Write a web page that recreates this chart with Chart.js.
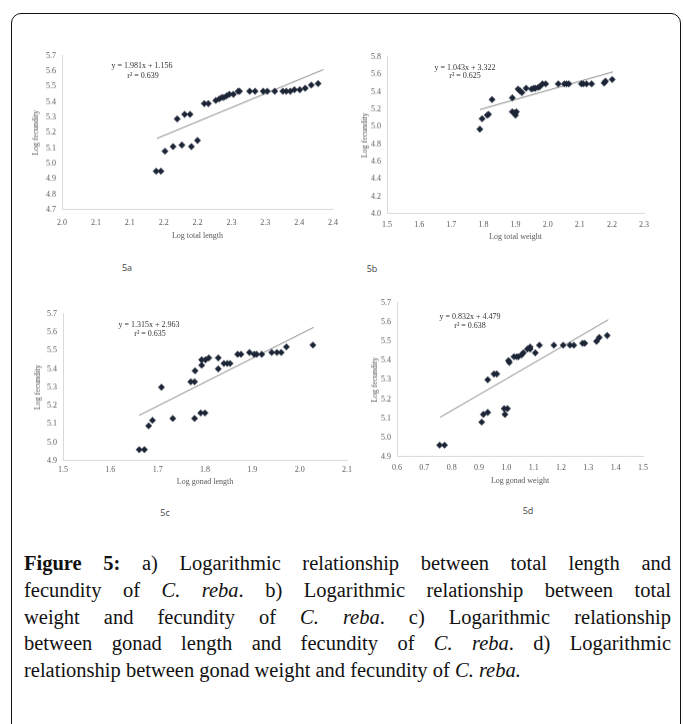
<!DOCTYPE html>
<html>
<head>
<meta charset="utf-8">
<script src="https://cdn.jsdelivr.net/npm/chart.js@4"></script>
<style>
  body { margin: 0; width: 683px; height: 724px; overflow: hidden; background: #fff; position: relative; }
  .frame { position: absolute; left: 11px; top: 13px; width: 670px; height: 800px; border: 1.5px solid #111; border-radius: 10px; box-sizing: border-box; }
  canvas { position: absolute; }
  .eq { position: absolute; transform: translate(-50%, -50%); font: 8px "Liberation Serif", serif; color: #333; white-space: nowrap; }
  .tag { position: absolute; transform: translate(-50%, -50%); font: 9px "Open Sans", sans-serif; color: #444; }
  .caption { position: absolute; left: 24px; width: 647px; top: 550px; font: 20.5px/26.8px "Liberation Serif", serif; color: #111; }
  .caption div { text-align: justify; text-align-last: justify; white-space: nowrap; }
  .caption div:last-child { text-align-last: left; }
</style>
</head>
<body>
<div class="frame"></div>
<canvas id="c5a" width="320" height="200"></canvas>
<canvas id="c5b" width="320" height="200"></canvas>
<canvas id="c5c" width="320" height="200"></canvas>
<canvas id="c5d" width="320" height="200"></canvas>

<div class="eq" style="left:142px;top:65px">y = 1.981x + 1.156</div>
<div class="eq" style="left:143px;top:75px">r² = 0.639</div>
<div class="eq" style="left:465px;top:67px">y = 1.043x + 3.322</div>
<div class="eq" style="left:465px;top:75px">r² = 0.625</div>
<div class="eq" style="left:149px;top:324px">y = 1.315x + 2.963</div>
<div class="eq" style="left:150px;top:333px">r² = 0.635</div>
<div class="eq" style="left:470px;top:316px">y = 0.832x + 4.479</div>
<div class="eq" style="left:470px;top:325px">r² = 0.638</div>

<div class="tag" style="left:127px;top:267px">5a</div>
<div class="tag" style="left:372px;top:268px">5b</div>
<div class="tag" style="left:165px;top:512px">5c</div>
<div class="tag" style="left:528px;top:510px">5d</div>

<div class="caption">
  <div><b>Figure 5:</b> a) Logarithmic relationship between total length and</div>
  <div>fecundity of <i>C. reba</i>. b) Logarithmic relationship between total</div>
  <div>weight and fecundity of <i>C. reba</i>. c) Logarithmic relationship</div>
  <div>between gonad length and fecundity of <i>C. reba</i>. d) Logarithmic</div>
  <div>relationship between gonad weight and fecundity of <i>C. reba.</i></div>
</div>

<script>
// 5a: log total length vs log fecundity
const aX = [2.139, 2.146, 2.152, 2.164, 2.170, 2.177, 2.181, 2.189, 2.191, 2.200, 2.210, 2.216, 2.227, 2.232, 2.236, 2.239, 2.243, 2.247, 2.253, 2.260, 2.262, 2.277, 2.285, 2.297, 2.303, 2.314, 2.326, 2.331, 2.337, 2.343, 2.351, 2.359, 2.368, 2.378];
const aY = [4.95, 4.95, 5.08, 5.11, 5.29, 5.12, 5.32, 5.32, 5.11, 5.15, 5.39, 5.39, 5.41, 5.42, 5.43, 5.43, 5.44, 5.45, 5.45, 5.47, 5.47, 5.47, 5.47, 5.47, 5.47, 5.47, 5.47, 5.47, 5.47, 5.48, 5.48, 5.49, 5.51, 5.52];
const aTrendX = [2.140, 2.386];
const aTrendY = [5.163, 5.611];
const aTicks = ['2.0', '2.1', '2.1', '2.2', '2.2', '2.3', '2.3', '2.4', '2.4'];

// 5b: log total weight vs log fecundity
const bX = [1.789, 1.796, 1.812, 1.816, 1.827, 1.890, 1.890, 1.898, 1.900, 1.903, 1.908, 1.914, 1.920, 1.933, 1.950, 1.957, 1.962, 1.971, 1.976, 1.984, 1.994, 2.033, 2.052, 2.059, 2.066, 2.105, 2.111, 2.121, 2.137, 2.176, 2.180, 2.201];
const bY = [4.97, 5.09, 5.13, 5.14, 5.31, 5.33, 5.17, 5.16, 5.13, 5.17, 5.43, 5.41, 5.39, 5.44, 5.43, 5.44, 5.44, 5.45, 5.46, 5.49, 5.49, 5.49, 5.49, 5.49, 5.49, 5.49, 5.49, 5.49, 5.49, 5.50, 5.52, 5.54];
const bTrendX = [1.789, 2.204];
const bTrendY = [5.195, 5.628];

// 5c: log gonad length vs log fecundity
const cX = [1.661, 1.672, 1.681, 1.689, 1.708, 1.732, 1.770, 1.778, 1.778, 1.779, 1.793, 1.793, 1.801, 1.791, 1.800, 1.808, 1.828, 1.828, 1.840, 1.847, 1.853, 1.869, 1.876, 1.894, 1.904, 1.909, 1.920, 1.941, 1.952, 1.961, 1.972, 2.028];
const cY = [4.96, 4.96, 5.09, 5.12, 5.30, 5.13, 5.33, 5.33, 5.13, 5.39, 5.42, 5.45, 5.45, 5.16, 5.16, 5.46, 5.46, 5.40, 5.43, 5.43, 5.43, 5.48, 5.48, 5.49, 5.48, 5.48, 5.48, 5.49, 5.49, 5.49, 5.52, 5.53];
const cTrendX = [1.661, 2.030];
const cTrendY = [5.147, 5.627];

// 5d: log gonad weight vs log fecundity
const dX = [0.756, 0.774, 0.910, 0.916, 0.932, 0.932, 0.955, 0.965, 0.992, 1.004, 0.995, 1.008, 1.011, 1.028, 1.038, 1.044, 1.056, 1.062, 1.077, 1.087, 1.087, 1.106, 1.121, 1.174, 1.208, 1.233, 1.247, 1.279, 1.287, 1.330, 1.340, 1.369];
const dY = [4.96, 4.96, 5.08, 5.12, 5.13, 5.30, 5.33, 5.33, 5.15, 5.15, 5.12, 5.40, 5.39, 5.42, 5.42, 5.42, 5.43, 5.44, 5.46, 5.47, 5.46, 5.44, 5.48, 5.48, 5.48, 5.48, 5.48, 5.49, 5.49, 5.50, 5.52, 5.53];
const dTrendX = [0.758, 1.373];
const dTrendY = [5.105, 5.612];

const tickFont = { family: 'Liberation Serif', size: 8 };
const grey = '#595959';

function pts(xs, ys) {
  return xs.map((x, i) => ({ x: x, y: ys[i] }));
}

function makePanel(id, p) {
  const chart = new Chart(document.getElementById(id), {
    type: 'scatter',
    data: {
      datasets: [
        {
          data: pts(p.x, p.y),
          pointStyle: 'rectRot',
          pointRadius: 3.2,
          backgroundColor: '#1c2536',
          borderColor: '#1c2536',
          borderWidth: 0.5
        },
        {
          data: pts(p.tx, p.ty),
          showLine: true,
          pointRadius: 0,
          borderColor: '#8a8a8a',
          borderWidth: 1
        }
      ]
    },
    options: {
      responsive: false,
      maintainAspectRatio: false,
      animation: false,
      layout: { padding: { top: 6, right: 10, left: 0, bottom: 0 } },
      plugins: { legend: { display: false }, tooltip: { enabled: false } },
      scales: {
        x: {
          type: 'linear',
          min: p.xMin, max: p.xMax,
          grid: { display: false, drawTicks: false },
          border: { color: '#d9d9d9' },
          ticks: {
            stepSize: p.xStep,
            autoSkip: false,
            maxRotation: 0,
            padding: p.xPad,
            color: grey,
            font: tickFont,
            callback: p.xLabels ? (v, i) => p.xLabels[i] : v => v.toFixed(1)
          },
          title: { display: true, text: p.xTitle, color: grey, font: tickFont, padding: 0 },
          afterFit: s => { s.height = p.xH; }
        },
        y: {
          min: p.yMin, max: p.yMax,
          grid: { display: false, drawTicks: false },
          border: { color: '#d9d9d9' },
          ticks: {
            stepSize: p.yStep,
            padding: 6,
            color: grey,
            font: tickFont,
            callback: v => v.toFixed(1)
          },
          title: { display: true, text: 'Log fecundity', color: grey, font: tickFont, padding: 0 },
          afterFit: s => { s.width = p.yW; }
        }
      }
    }
  });

  // move the canvas so that the plot area sits where the picture has it
  const a = chart.chartArea;
  chart.resize(
    chart.width + (p.box[2] - p.box[0]) - (a.right - a.left),
    chart.height + (p.box[3] - p.box[1]) - (a.bottom - a.top)
  );
  const b = chart.chartArea;
  chart.canvas.style.left = (p.box[0] - b.left) + 'px';
  chart.canvas.style.top = (p.box[1] - b.top) + 'px';
}

makePanel('c5a', {
  x: aX, y: aY, tx: aTrendX, ty: aTrendY,
  xMin: 2.0, xMax: 2.4, xStep: 0.05, xLabels: aTicks,
  yMin: 4.7, yMax: 5.7, yStep: 0.1,
  xTitle: 'Log total length', xPad: 8, xH: 31, yW: 31,
  box: [62, 56, 333, 209]
});
makePanel('c5b', {
  x: bX, y: bY, tx: bTrendX, ty: bTrendY,
  xMin: 1.5, xMax: 2.3, xStep: 0.1,
  yMin: 4.0, yMax: 5.8, yStep: 0.2,
  xTitle: 'Log total weight', xPad: 6, xH: 28, yW: 27,
  box: [387, 57, 644, 213]
});
makePanel('c5c', {
  x: cX, y: cY, tx: cTrendX, ty: cTrendY,
  xMin: 1.5, xMax: 2.1, xStep: 0.1,
  yMin: 4.9, yMax: 5.7, yStep: 0.1,
  xTitle: 'Log gonad length', xPad: 4, xH: 26, yW: 30,
  box: [63, 314, 347, 460]
});
makePanel('c5d', {
  x: dX, y: dY, tx: dTrendX, ty: dTrendY,
  xMin: 0.6, xMax: 1.5, xStep: 0.1,
  yMin: 4.9, yMax: 5.7, yStep: 0.1,
  xTitle: 'Log gonad weight', xPad: 6, xH: 29, yW: 27,
  box: [397, 303, 643, 456]
});
</script>
</body>
</html>
